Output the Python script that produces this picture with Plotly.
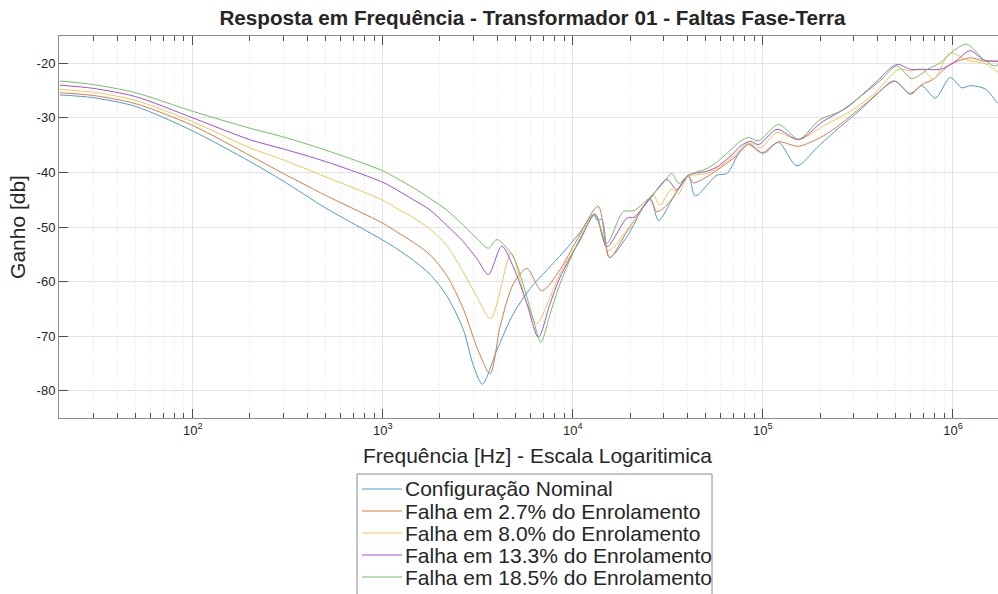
'''
    Frequency response of transformer 01 under phase-to-ground faults.
'''

import math

import plotly.graph_objects as go

# Nominal configuration
freq_nominal = [20, 30, 50, 100, 200, 300, 500, 1000, 1186, 1449, 1775, 2172, 2654, 2999, 3342,
                3981, 4864, 5957, 7295, 8930, 10900, 12830, 13460, 14210, 15590, 19240, 25520,
                28240, 33880, 40580, 44030, 57300, 64700, 76000, 84000, 100700, 120800, 151000,
                192000, 235000, 312000, 398000, 487000, 596000, 687000, 807000, 968000, 1114000,
                1233000, 1480000, 1710000, 1760000]
gain_nominal = [-25.8, -26.3, -27.9, -32.4, -38.0, -41.6, -46.5, -52.4, -54.0, -56.1, -58.7, -62.6,
                -68.8, -75.4, -78.8, -72.6, -65.9, -61.3, -57.9, -54.6, -51.0, -47.7, -48.8, -48.6,
                -55.6, -51.8, -44.8, -48.8, -44.5, -40.5, -44.3, -40.5, -40.2, -36.0, -34.7, -36.5,
                -34.5, -38.8, -35.5, -32.7, -29.1, -25.7, -23.2, -25.5, -24.1, -26.4, -22.6, -24.5,
                -24.1, -24.7, -27.2, -27.5]

# Fault at 2.7% of the winding
freq_f027 = [20, 30, 50, 100, 200, 300, 500, 1000, 1186, 1449, 1775, 2172, 2654, 3126, 3673,
             4140, 4864, 5730, 6872, 8570, 10500, 13600, 15600, 19240, 25500, 27700, 31800,
             40500, 43100, 50700, 57300, 70000, 76000, 84000, 98800, 120800, 154000, 208000,
             255000, 352000, 497000, 596000, 687000, 791000, 968000, 1233000, 1450000, 1760000]
gain_f027 = [-25.4, -25.9, -27.4, -31.4, -36.9, -40.2, -44.2, -49.3, -50.9, -52.8, -55.1, -58.9,
             -65.0, -72.0, -76.9, -68.3, -60.4, -57.6, -61.7, -57.8, -52.4, -46.2, -55.6, -50.9,
             -45.0, -47.2, -45.7, -40.8, -41.9, -40.8, -39.6, -37.4, -36.3, -34.9, -36.4, -34.4,
             -35.2, -33.3, -31.2, -27.2, -23.3, -25.7, -23.9, -22.9, -20.2, -19.0, -19.6, -19.6]

# Fault at 8.0% of the winding
freq_f080 = [20, 30, 50, 100, 200, 300, 500, 1000, 1186, 1449, 1775, 2172, 2654, 3126, 3698,
             4732, 5285, 5730, 6470, 7600, 8570, 10900, 13100, 15400, 19240, 25000, 26500,
             28800, 33000, 36000, 40500, 50700, 57300, 70000, 76000, 86000, 97000, 118600,
             154000, 208000, 288000, 382000, 518000, 596000, 687000, 791000, 968000, 1185000,
             1510000, 1760000]
gain_f080 = [-24.8, -25.3, -26.8, -30.7, -35.5, -37.7, -40.8, -45.1, -46.6, -48.3, -50.4, -53.4,
             -58.3, -62.8, -66.8, -54.7, -59.8, -64.0, -67.7, -62.8, -58.5, -52.4, -47.8, -54.3,
             -50.6, -45.1, -44.2, -46.0, -43.0, -43.9, -40.8, -40.2, -39.3, -37.0, -35.8, -34.6,
             -35.5, -32.7, -34.0, -31.5, -28.8, -25.7, -21.1, -21.4, -21.1, -22.9, -18.1, -19.4,
             -20.2, -21.9]

# Fault at 13.3% of the winding
freq_f133 = [20, 30, 50, 100, 200, 300, 500, 1000, 1186, 1449, 1775, 2172, 2654, 3126, 3597,
             4227, 4864, 5730, 6590, 7600, 8570, 10900, 13100, 15100, 19240, 21000, 25500,
             31300, 35300, 40500, 50700, 57300, 70000, 76000, 86000, 95000, 118600, 154000,
             208000, 277000, 382000, 507000, 596000, 700000, 858000, 1007000, 1233000, 1450000,
             1760000]
gain_f133 = [-24.0, -24.6, -26.1, -30.0, -34.0, -35.7, -38.0, -41.8, -43.2, -45.0, -46.9, -49.7,
             -52.7, -55.8, -58.7, -53.5, -57.3, -64.0, -70.2, -64.0, -59.2, -52.4, -47.6, -53.6,
             -48.4, -48.2, -44.8, -41.3, -43.2, -40.5, -39.8, -39.0, -36.5, -35.2, -34.3, -34.9,
             -32.1, -34.0, -30.6, -28.1, -23.9, -20.2, -21.1, -21.1, -21.1, -19.9, -17.7, -19.4,
             -19.6]

# Fault at 18.5% of the winding
freq_f185 = [20, 30, 50, 100, 200, 300, 500, 1000, 1186, 1449, 1775, 2172, 2654, 3126, 3597,
             3981, 4864, 5730, 6210, 6792, 7600, 8570, 10900, 13100, 15100, 18400, 21000, 25500,
             28800, 33200, 36000, 40500, 50700, 57300, 70000, 76000, 84000, 95000, 120800,
             154000, 200000, 255000, 312000, 414000, 507000, 608000, 744000, 858000, 1007000,
             1185000, 1450000, 1670000, 1760000]
gain_f185 = [-23.25, -23.9, -25.4, -28.8, -31.9, -33.5, -35.9, -39.7, -41.1, -42.8, -44.8, -46.9,
             -49.7, -52.1, -53.9, -52.3, -55.5, -62.8, -67.1, -71.1, -65.9, -60.4, -52.1, -47.8,
             -53.0, -47.2, -47.0, -44.5, -42.6, -40.2, -42.0, -40.5, -39.3, -38.1, -35.4, -34.3,
             -33.6, -34.2, -31.2, -33.9, -30.3, -28.8, -26.6, -23.2, -20.5, -22.8, -21.0, -19.9,
             -17.7, -16.5, -19.3, -20.5, -19.9]

series_names = ['Configuração Nominal',
                'Falha em 2.7% do Enrolamento',
                'Falha em 8.0% do Enrolamento',
                'Falha em 13.3% do Enrolamento',
                'Falha em 18.5% do Enrolamento']
series_freqs = [freq_nominal, freq_f027, freq_f080, freq_f133, freq_f185]
series_gains = [gain_nominal, gain_f027, gain_f080, gain_f133, gain_f185]
colors = ['#4b9bdb', '#e27845', '#f4c453', '#a64ddb', '#70c160']

y_ticks = [-80, -70, -60, -50, -40, -30, -20]
y_ticktext = ['-80', '-70', '-60', '-50', '-40', '-30', '-20']
x_ticks = [100, 1000, 10000, 100000, 1000000]
x_ticktext = ['10<sup>2</sup>', '10<sup>3</sup>', '10<sup>4</sup>',
              '10<sup>5</sup>', '10<sup>6</sup>']
x_minor = [k * 10 ** d for d in range(1, 7) for k in range(2, 10) if k * 10 ** d < 1.75e6]

FONT = 'Liberation Sans, Arial, sans-serif'
TXT = '#262626'

# plot area in pixels (left, right, top, bottom)
PL, PR, PT, PB = 59, 998, 36, 418


def px_x(x):
    return (x - PL) / (PR - PL)


def px_y(y):
    return (PB - y) / (PB - PT)


fig = go.Figure()
for name, fr, g, c in zip(series_names, series_freqs, series_gains, colors):
    fig.add_trace(go.Scatter(x=fr, y=g, name=name, mode='lines', showlegend=False,
                             line=dict(color=c, width=1, shape='spline', smoothing=0.8)))

# legend drawn by hand so the row spacing matches the original
shapes = [dict(type='rect', xref='paper', yref='paper',
               x0=px_x(357), x1=px_x(712), y0=px_y(474), y1=px_y(600),
               line=dict(color='#8c8c8c', width=1), fillcolor='white', layer='above')]
annotations = []
for i, (name, c) in enumerate(zip(series_names, colors)):
    yc = 489 + 22 * i
    shapes.append(dict(type='line', xref='paper', yref='paper',
                       x0=px_x(362), x1=px_x(402), y0=px_y(yc), y1=px_y(yc),
                       line=dict(color=c, width=1), layer='above'))
    annotations.append(dict(text=name, xref='paper', yref='paper', x=px_x(403), y=px_y(yc),
                            xanchor='left', yanchor='middle', showarrow=False,
                            font=dict(size=21, color=TXT)))

# x axis title sits a little right of the visible plot centre in the original
annotations.append(dict(text='Frequência [Hz] - Escala Logaritimica', xref='paper', yref='paper',
                        x=px_x(537), y=px_y(455), xanchor='center', yanchor='middle',
                        showarrow=False, font=dict(size=21, color=TXT)))

fig.update_layout(
    width=998, height=594,
    margin=dict(l=PL, r=998 - PR, t=PT, b=594 - PB, autoexpand=False),
    paper_bgcolor='white', plot_bgcolor='white',
    font=dict(family=FONT, color=TXT),
    title=dict(text='<b>Resposta em Frequência - Transformador 01 - Faltas Fase-Terra</b>',
               x=px_x(532.5), xref='paper', xanchor='center',
               y=1 - 18 / 594, yref='container', yanchor='middle',
               font=dict(size=20.7, color=TXT)),
    shapes=shapes,
    annotations=annotations,
    showlegend=False,
)

fig.update_xaxes(type='log', range=[math.log10(19.8), 6.237],
                 tickvals=x_ticks, ticktext=x_ticktext,
                 ticks='inside', ticklen=9, tickcolor='#4d4d4d',
                 showline=True, linecolor='#8c8c8c', linewidth=1, mirror='ticks',
                 showgrid=True, gridcolor='#e3e3e3', gridwidth=1,
                 tickfont=dict(size=13), zeroline=False,
                 minor=dict(tickmode='array', tickvals=x_minor, ticks='inside', ticklen=5,
                            tickcolor='#4d4d4d', showgrid=True, gridcolor='#e4e4e4',
                            griddash='1px,2px'))
# the original is cropped on the right, so no right-hand axis line
fig.update_yaxes(range=[-85, -15], tickvals=y_ticks, ticktext=y_ticktext,
                 ticks='inside', ticklen=9, tickcolor='#4d4d4d',
                 showline=True, linecolor='#8c8c8c', linewidth=1, mirror=False,
                 showgrid=True, gridcolor='#e3e3e3', gridwidth=1,
                 tickfont=dict(size=13), zeroline=False,
                 title=dict(text='Ganho [db]', font=dict(size=21), standoff=5))

fig.write_html('out.html', config={'displayModeBar': False},
               post_script="document.body.style.margin='0';")
